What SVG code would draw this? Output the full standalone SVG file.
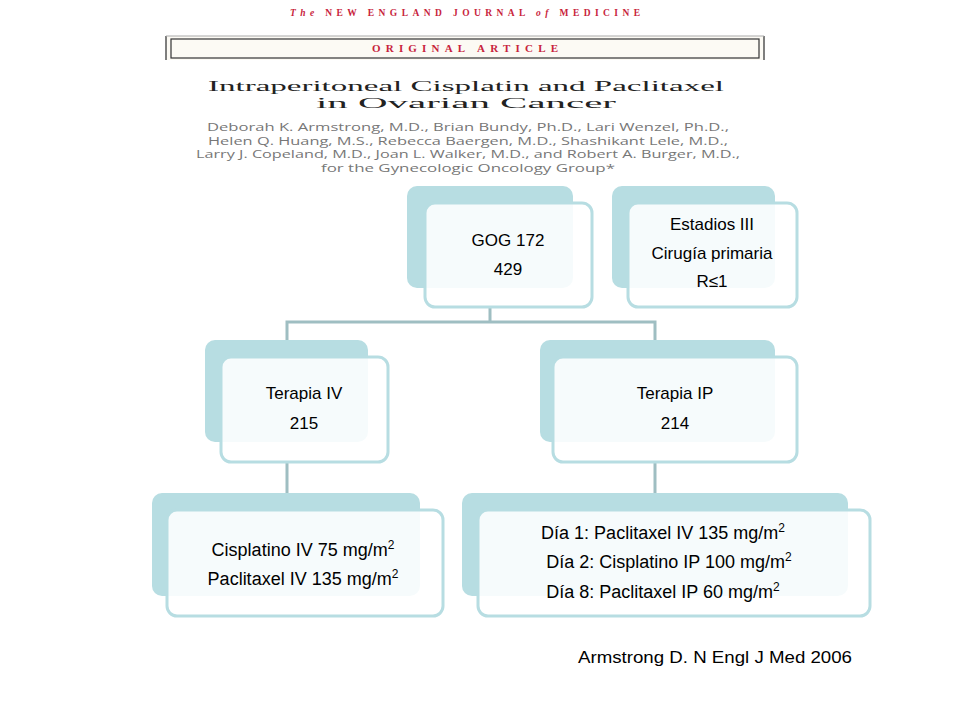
<svg xmlns="http://www.w3.org/2000/svg" width="960" height="720" viewBox="0 0 960 720">
<style>
.b{fill:#b7dde2}
.f{fill:#ffffff;fill-opacity:0.88;stroke:#b7dde2;stroke-width:3}
.t{font-family:"Liberation Sans",Arial,sans-serif;font-size:17px;fill:#000;text-anchor:middle}
.t2{font-family:"Liberation Sans",Arial,sans-serif;font-size:18px;fill:#000;text-anchor:middle}
.c{stroke:#9fbec2;stroke-width:3;fill:none}
.au{font-family:"Open Sans","DejaVu Sans",sans-serif;font-size:10.5px;fill:#777;text-anchor:middle}
</style>
<rect width="960" height="720" fill="#fff"/>
<g id="header">
<text x="465" y="16" text-anchor="middle" font-family="'Liberation Serif',serif" font-size="9.5" fill="#c8243c" textLength="350" lengthAdjust="spacing" font-weight="bold"><tspan font-style="italic">The</tspan> NEW ENGLAND JOURNAL <tspan font-style="italic">of</tspan> MEDICINE</text>
<rect x="166" y="36" width="598" height="24" fill="#fcfaf4"/>
<rect x="171" y="39" width="588" height="19" fill="none" stroke="#333" stroke-width="1.2"/>
<line x1="166" y1="36" x2="166" y2="60" stroke="#555" stroke-width="1.5"/>
<line x1="764" y1="36" x2="764" y2="60" stroke="#555" stroke-width="1.5"/>
<line x1="166" y1="36" x2="764" y2="36" stroke="#aaa" stroke-width="1"/>
<text x="465" y="52" text-anchor="middle" font-family="'Liberation Serif',serif" font-size="11" fill="#c8243c" textLength="186" lengthAdjust="spacing" font-weight="bold">ORIGINAL ARTICLE</text>
<text x="466" y="91" text-anchor="middle" font-family="'Liberation Serif',serif" font-size="15.5" fill="#222" textLength="516" lengthAdjust="spacingAndGlyphs">Intraperitoneal Cisplatin and Paclitaxel</text>
<text x="466" y="108" text-anchor="middle" font-family="'Liberation Serif',serif" font-size="15.5" fill="#222" textLength="300" lengthAdjust="spacingAndGlyphs">in Ovarian Cancer</text>
<text class="au" x="468" y="131" textLength="522" lengthAdjust="spacingAndGlyphs">Deborah K. Armstrong, M.D., Brian Bundy, Ph.D., Lari Wenzel, Ph.D.,</text>
<text class="au" x="468" y="145" textLength="520" lengthAdjust="spacingAndGlyphs">Helen Q. Huang, M.S., Rebecca Baergen, M.D., Shashikant Lele, M.D.,</text>
<text class="au" x="468" y="158" textLength="544" lengthAdjust="spacingAndGlyphs">Larry J. Copeland, M.D., Joan L. Walker, M.D., and Robert A. Burger, M.D.,</text>
<text class="au" x="468" y="172" textLength="294" lengthAdjust="spacingAndGlyphs">for the Gynecologic Oncology Group*</text>
</g>
<g id="connectors">
<path class="c" d="M490 307V322M287 340V322H655V340M287 462V493M655 462V493"/>
</g>
<g id="gog">
<rect class="b" x="407" y="186" width="166" height="102" rx="10"/>
<rect class="f" x="425" y="203" width="167" height="104" rx="10"/>
<text class="t" x="508" y="246">GOG 172</text>
<text class="t" x="508" y="275">429</text>
</g>
<g id="estadios">
<rect class="b" x="612" y="186" width="163" height="102" rx="10"/>
<rect class="f" x="628" y="203" width="169" height="104" rx="10"/>
<text class="t" x="712" y="230">Estadios III</text>
<text class="t" x="712" y="259">Cirugía primaria</text>
<text class="t" x="712" y="287">R≤1</text>
</g>
<g id="terapia-iv">
<rect class="b" x="205" y="340" width="163" height="102" rx="10"/>
<rect class="f" x="221" y="357" width="167" height="105" rx="10"/>
<text class="t" x="304" y="399">Terapia IV</text>
<text class="t" x="304" y="429">215</text>
</g>
<g id="terapia-ip">
<rect class="b" x="540" y="340" width="235" height="102" rx="10"/>
<rect class="f" x="553" y="357" width="244" height="105" rx="10"/>
<text class="t" x="675" y="399">Terapia IP</text>
<text class="t" x="675" y="429">214</text>
</g>
<g id="iv-dose">
<rect class="b" x="152" y="493" width="268" height="103" rx="10"/>
<rect class="f" x="167" y="510" width="276" height="106" rx="10"/>
<text class="t2" x="303" y="556">Cisplatino IV 75 mg/m<tspan font-size="12" dy="-7">2</tspan></text>
<text class="t2" x="303" y="585">Paclitaxel IV 135 mg/m<tspan font-size="12" dy="-7">2</tspan></text>
</g>
<g id="ip-dose">
<rect class="b" x="462" y="493" width="386" height="103" rx="10"/>
<rect class="f" x="478" y="510" width="392" height="106" rx="10"/>
<text class="t2" x="663" y="539">Día 1: Paclitaxel IV 135 mg/m<tspan font-size="12" dy="-7">2</tspan></text>
<text class="t2" x="669" y="568">Día 2: Cisplatino IP 100 mg/m<tspan font-size="12" dy="-7">2</tspan></text>
<text class="t2" x="663" y="598">Día 8: Paclitaxel IP 60 mg/m<tspan font-size="12" dy="-7">2</tspan></text>
</g>
<text x="715" y="663" text-anchor="middle" font-family="'Liberation Sans',Arial,sans-serif" font-size="16" fill="#000" textLength="274" lengthAdjust="spacingAndGlyphs">Armstrong D. N Engl J Med 2006</text>
</svg>
